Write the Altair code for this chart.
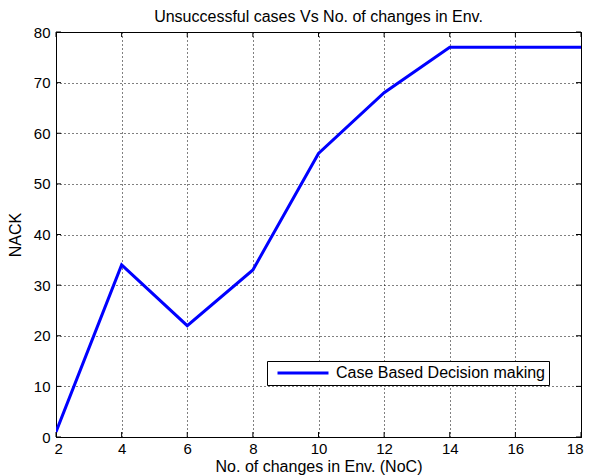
import altair as alt
import pandas as pd

noc = [2, 4, 6, 8, 10, 12, 14, 16, 18]
nack = [1, 34, 22, 33, 56, 68, 77, 77, 77]
series_name = "Case Based Decision making"
x_ticks = [2, 4, 6, 8, 10, 12, 14, 16, 18]
y_ticks = [0, 10, 20, 30, 40, 50, 60, 70, 80]

W, H = 525, 405
FONT = "Liberation Sans"

df = pd.DataFrame({"NoC": noc, "NACK": nack, "series": [series_name] * len(noc)})
dfx = pd.DataFrame({"v": x_ticks})
dfy = pd.DataFrame({"v": y_ticks})

xscale = alt.Scale(domain=[2, 18], nice=False)
yscale = alt.Scale(domain=[0, 80], nice=False)

line = alt.Chart(df).mark_line(strokeWidth=3, clip=True).encode(
    x=alt.X("NoC:Q", scale=xscale,
            axis=alt.Axis(values=x_ticks, title="No. of changes in Env. (NoC)",
                          grid=True, domain=False, ticks=False,
                          labelFlush=True, labelFlushOffset=2,
                          labelPadding=4, titleBaseline="alphabetic", titleY=34,
                          format="d")),
    y=alt.Y("NACK:Q", scale=yscale,
            axis=alt.Axis(values=y_ticks, title="NACK",
                          grid=True, domain=False, ticks=False,
                          labelPadding=6, titlePadding=10, format="d")),
    color=alt.Color("series:N",
                    scale=alt.Scale(domain=[series_name], range=["#0000FF"]),
                    legend=alt.Legend(title=None, orient="none", legendX=211, legendY=329,
                                      symbolType="stroke", symbolSize=2600,
                                      symbolStrokeWidth=3, labelFontSize=16,
                                      labelFont=FONT, labelColor="black", labelLimit=400,
                                      labelOffset=6, padding=4, symbolOffset=5,
                                      clipHeight=16,
                                      strokeColor="black", fillColor="white")),
)

xt_top = alt.Chart(dfx).mark_rule(color="black").encode(
    x=alt.X("v:Q", scale=xscale), y=alt.value(0), y2=alt.value(5))
xt_bot = alt.Chart(dfx).mark_rule(color="black").encode(
    x=alt.X("v:Q", scale=xscale), y=alt.value(H - 5), y2=alt.value(H))
yt_left = alt.Chart(dfy).mark_rule(color="black").encode(
    y=alt.Y("v:Q", scale=yscale), x=alt.value(0), x2=alt.value(5))
yt_right = alt.Chart(dfy).mark_rule(color="black").encode(
    y=alt.Y("v:Q", scale=yscale), x=alt.value(W - 5), x2=alt.value(W))

chart = alt.layer(xt_top, xt_bot, yt_left, yt_right, line).properties(
    width=W, height=H,
    title=alt.TitleParams("Unsuccessful cases Vs No. of changes in Env.",
                          fontSize=16, fontWeight="normal", font=FONT, color="black",
                          anchor="middle", offset=0),
    autosize=alt.AutoSizeParams(type="none"),
    padding={"left": 48, "top": 24, "right": 3, "bottom": 39},
).configure(background="white").configure_view(stroke="black", strokeWidth=1).configure_axis(
    gridColor="black", gridDash=[1, 3], gridOpacity=1, gridWidth=1,
    labelFont=FONT, labelFontSize=15, labelColor="black",
    titleFont=FONT, titleFontSize=16, titleFontWeight="normal", titleColor="black",
)

chart.save("out.html", embed_options={"renderer": "svg", "actions": False})
